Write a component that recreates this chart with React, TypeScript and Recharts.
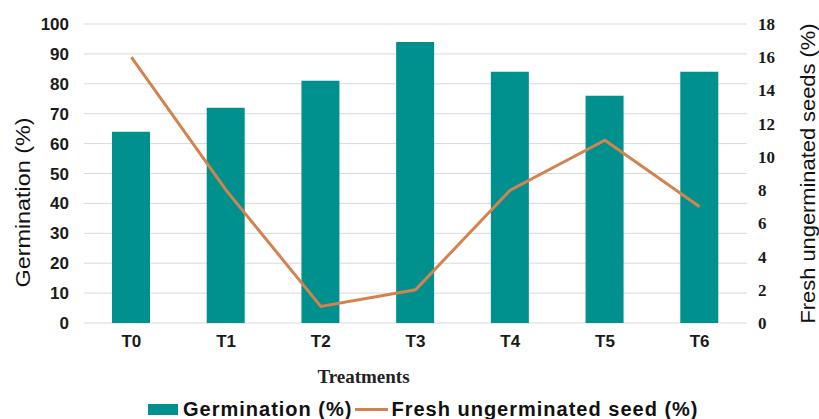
import React from "react";
import {
  ComposedChart,
  Bar,
  Line,
  XAxis,
  YAxis,
  CartesianGrid,
  Legend,
} from "recharts";

const treatments = ["T0", "T1", "T2", "T3", "T4", "T5", "T6"];
const germination = [64, 72, 81, 94, 84, 76, 84];
const freshUngerminated = [16, 8, 1, 2, 8, 11, 7];
const leftTicks = [0, 10, 20, 30, 40, 50, 60, 70, 80, 90, 100];
const rightTicks = [0, 2, 4, 6, 8, 10, 12, 14, 16, 18];

const TEAL = "#00918e";
const ORANGE = "#d5834e";
const GRID = "#d9d9d9";
const SANS = "'Liberation Sans', Arial, sans-serif";
const SERIF = "'Liberation Serif', 'Times New Roman', serif";

const data = treatments.map((t, i) => ({
  name: t,
  germination: germination[i],
  fresh: freshUngerminated[i],
}));

function AxisTick({ x, y, payload, anchor, family, dy }: any) {
  return (
    <text x={x} y={y} dy={dy} textAnchor={anchor} fontFamily={family} fontWeight="bold" fontSize={17} fill="#1a1a1a">
      {payload.value}
    </text>
  );
}

// rotated axis title, stretched to the length the axis needs
function VerticalTitle({ viewBox, text, side, length, shiftY }: any) {
  const { x, y, width, height } = viewBox;
  const cx = side === "left" ? x - 2 : x + width + 10;
  const cy = y + height / 2 + shiftY;
  return (
    <text
      x={cx}
      y={cy}
      transform={`rotate(-90 ${cx} ${cy})`}
      textAnchor="middle"
      dominantBaseline="central"
      fontFamily={SANS}
      fontSize={21}
      fill="#111"
      textLength={length}
      lengthAdjust="spacingAndGlyphs"
    >
      {text}
    </text>
  );
}

function BottomTitle({ viewBox }: any) {
  const { x, y, width } = viewBox;
  return (
    <text
      x={x + width / 2 - 52}
      y={y + 60}
      textAnchor="middle"
      fontFamily={SERIF}
      fontWeight="bold"
      fontSize={19}
      fill="#222"
    >
      Treatments
    </text>
  );
}

function LegendContent() {
  const label: React.CSSProperties = {
    fontFamily: SANS,
    fontWeight: "bold",
    fontSize: 20,
    letterSpacing: 1.0,
    color: "#111",
    whiteSpace: "nowrap",
  };
  return (
    <div style={{ display: "flex", alignItems: "center", paddingLeft: 148, height: 22 }}>
      <span style={{ width: 30, height: 11, background: TEAL, marginRight: 5 }} />
      <span style={label}>Germination (%)</span>
      <span style={{ width: 33, height: 3, background: ORANGE, margin: "0 3px 0 3px" }} />
      <span style={label}>Fresh ungerminated seed (%)</span>
    </div>
  );
}

export default function App() {
  return (
    <div style={{ position: "absolute", left: 0, top: 0, background: "#fff" }}>
      <ComposedChart
        width={819}
        height={419}
        data={data}
        margin={{ top: 24, right: 22, bottom: 66, left: 24 }}
        barCategoryGap={0}
      >
        <CartesianGrid yAxisId="left" vertical={false} stroke={GRID} strokeWidth={1} />
        <XAxis
          dataKey="name"
          axisLine={false}
          tickLine={false}
          tickSize={0}
          tickMargin={10}
          height={30}
          tick={<AxisTick anchor="middle" family={SANS} dy={14} />}
          interval={0}
          label={<BottomTitle />}
        />
        <YAxis
          yAxisId="left"
          domain={[0, 100]}
          ticks={leftTicks}
          width={60}
          axisLine={false}
          tickLine={false}
          tickSize={0}
          tickMargin={15}
          tick={<AxisTick anchor="end" family={SANS} dy={6} />}
          interval={0}
          label={<VerticalTitle text="Germination (%)" side="left" length={170} shiftY={29} />}
        />
        <YAxis
          yAxisId="right"
          orientation="right"
          domain={[0, 18]}
          ticks={rightTicks}
          width={50}
          axisLine={false}
          tickLine={false}
          tickSize={0}
          tickMargin={11}
          tick={<AxisTick anchor="start" family={SERIF} dy={6} />}
          interval={0}
          label={<VerticalTitle text="Fresh ungerminated seeds (%)" side="right" length={300} shiftY={0} />}
        />
        <Legend
          layout="horizontal"
          verticalAlign="middle"
          align="center"
          content={<LegendContent />}
          wrapperStyle={{ top: 398, left: 0, width: 819, height: 22 }}
        />
        <Bar
          yAxisId="left"
          dataKey="germination"
          name="Germination (%)"
          fill={TEAL}
          barSize={38}
          isAnimationActive={false}
        />
        <Line
          yAxisId="right"
          dataKey="fresh"
          name="Fresh ungerminated seed (%)"
          type="linear"
          stroke={ORANGE}
          strokeWidth={3}
          dot={false}
          activeDot={false}
          isAnimationActive={false}
        />
      </ComposedChart>
    </div>
  );
}
